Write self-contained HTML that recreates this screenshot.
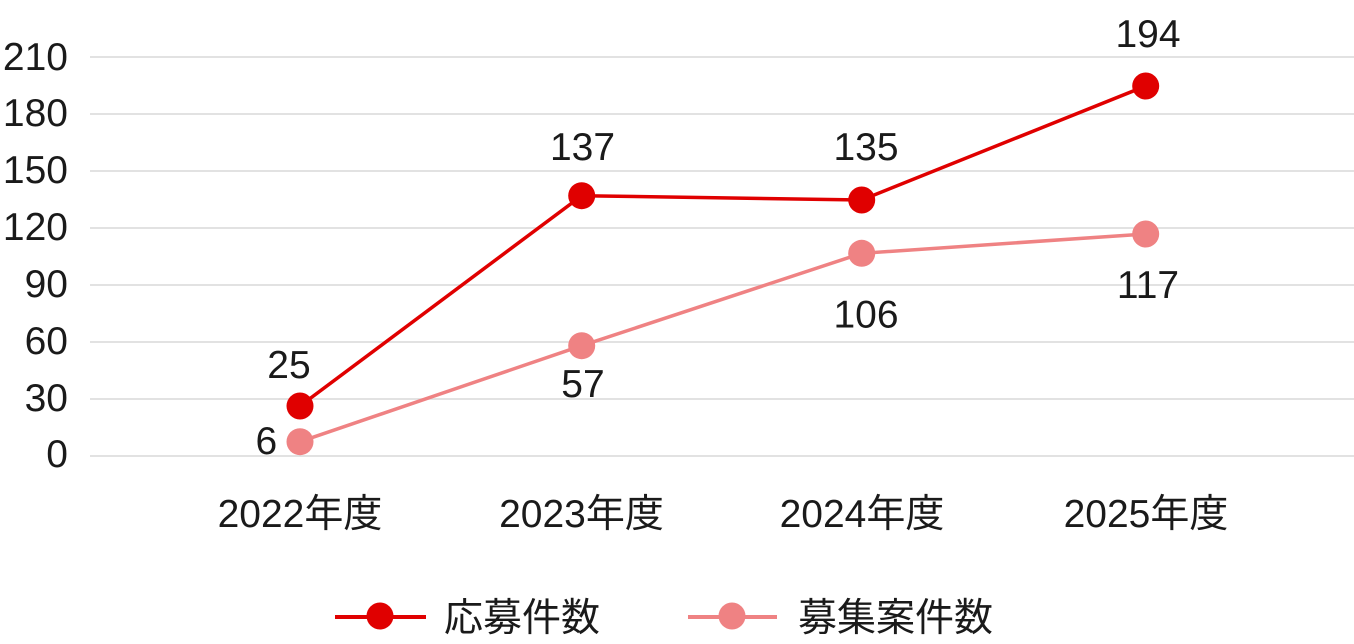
<!DOCTYPE html>
<html>
<head>
<meta charset="utf-8">
<style>
  html, body { margin: 0; padding: 0; background: #ffffff; }
  body { width: 1354px; height: 644px; overflow: hidden; }
  svg { display: block; }
  text { font-family: "Liberation Sans", "Noto Sans CJK JP", sans-serif; fill: #1a1a1a; font-size: 39px; }
</style>
</head>
<body>
<svg width="1354" height="644" viewBox="0 0 1354 644" xmlns="http://www.w3.org/2000/svg">
  <!-- gridlines -->
  <g stroke="#d9d9d9" stroke-width="1.6">
    <line x1="90" y1="57" x2="1354" y2="57"/>
    <line x1="90" y1="114" x2="1354" y2="114"/>
    <line x1="90" y1="171" x2="1354" y2="171"/>
    <line x1="90" y1="228" x2="1354" y2="228"/>
    <line x1="90" y1="285" x2="1354" y2="285"/>
    <line x1="90" y1="342" x2="1354" y2="342"/>
    <line x1="90" y1="399" x2="1354" y2="399"/>
    <line x1="90" y1="456" x2="1354" y2="456"/>
  </g>
  <!-- y labels -->
  <g text-anchor="end">
    <text x="68" y="70">210</text>
    <text x="68" y="126">180</text>
    <text x="68" y="183">150</text>
    <text x="68" y="240">120</text>
    <text x="68" y="297">90</text>
    <text x="68" y="354">60</text>
    <text x="68" y="411">30</text>
    <text x="68" y="467">0</text>
  </g>
  <!-- x labels -->
  <g text-anchor="middle">
    <text x="300" y="527">2022年度</text>
    <text x="581.5" y="527">2023年度</text>
    <text x="862" y="527">2024年度</text>
    <text x="1146" y="527">2025年度</text>
  </g>
  <!-- pink series -->
  <polyline points="300,441.7 581.7,345.7 861.7,253.3 1145.7,234" fill="none" stroke="#ef8283" stroke-width="3.5"/>
  <g fill="#ef8283">
    <circle cx="300" cy="441.7" r="13.5"/>
    <circle cx="581.7" cy="345.7" r="13.5"/>
    <circle cx="861.7" cy="253.3" r="13.5"/>
    <circle cx="1145.7" cy="234" r="13.5"/>
  </g>
  <!-- red series -->
  <polyline points="300,406 581.7,195.7 861.7,200 1145.7,86" fill="none" stroke="#e00000" stroke-width="3.5"/>
  <g fill="#e00000">
    <circle cx="300" cy="406" r="13.5"/>
    <circle cx="581.7" cy="195.7" r="13.5"/>
    <circle cx="861.7" cy="200" r="13.5"/>
    <circle cx="1145.7" cy="86" r="13.5"/>
  </g>
  <!-- data labels -->
  <g text-anchor="middle">
    <text x="289" y="378">25</text>
    <text x="266.3" y="454">6</text>
    <text x="582.5" y="160">137</text>
    <text x="583" y="397">57</text>
    <text x="866" y="160">135</text>
    <text x="866" y="327.5">106</text>
    <text x="1148" y="47">194</text>
    <text x="1148" y="298">117</text>
  </g>
  <!-- legend -->
  <line x1="335" y1="617" x2="426" y2="617" stroke="#e00000" stroke-width="4"/>
  <circle cx="380" cy="616" r="13.5" fill="#e00000"/>
  <text x="444" y="631">応募件数</text>
  <line x1="688" y1="617" x2="777" y2="617" stroke="#ef8283" stroke-width="4"/>
  <circle cx="732" cy="616" r="13.5" fill="#ef8283"/>
  <text x="798" y="631">募集案件数</text>
</svg>
</body>
</html>
